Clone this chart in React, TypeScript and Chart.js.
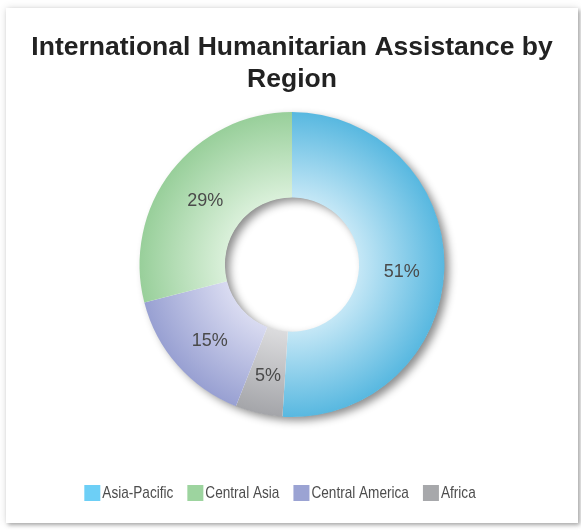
import React, { useEffect, useRef } from "react";
import { Chart, registerables } from "chart.js";

Chart.register(...registerables);

// Data in clockwise drawing order (starting at 12 o'clock)
const categories = ["Asia-Pacific", "Africa", "Central America", "Central Asia"];
const shares = [51, 5, 15, 29];
// Legend order as shown in the reference
const legendOrder = ["Asia-Pacific", "Central Asia", "Central America", "Africa"];

const innerColors = ["#c4e7f6", "#dcdcde", "#d9dbf1", "#daf0da"];
const outerColors = ["#58b8e0", "#a4a5a9", "#98a0d2", "#98cf9a"];
const legendColors = ["#6dcff6", "#a7a8ab", "#9ba3d3", "#9dd49f"];

const titleLines = ["International Humanitarian Assistance by", "Region"];

const ringShadow = {
  id: "ringShadow",
  beforeDatasetsDraw(chart: any) {
    const meta = chart.getDatasetMeta(0);
    const arc = meta.data[0];
    if (!arc) return;
    const { x, y, outerRadius, innerRadius } = arc.getProps(["x", "y", "outerRadius", "innerRadius"], true);
    const ctx = chart.ctx;
    ctx.save();
    ctx.beginPath();
    ctx.arc(x, y, outerRadius - 0.5, 0, Math.PI * 2);
    ctx.moveTo(x + innerRadius + 0.5, y);
    ctx.arc(x, y, innerRadius + 0.5, 0, Math.PI * 2, true);
    ctx.closePath();
    ctx.fillStyle = "#ffffff";
    ctx.shadowColor = "rgba(0,0,0,0.45)";
    ctx.shadowBlur = 9;
    ctx.shadowOffsetX = 5;
    ctx.shadowOffsetY = 4;
    ctx.fill("evenodd");
    ctx.restore();
  },
};

const sliceLabels = {
  id: "sliceLabels",
  afterDatasetsDraw(chart: any) {
    const meta = chart.getDatasetMeta(0);
    const data = chart.data.datasets[0].data as number[];
    const total = data.reduce((a, b) => a + b, 0);
    const ctx = chart.ctx;
    ctx.save();
    ctx.font = "18px 'Liberation Sans', Arial, sans-serif";
    ctx.fillStyle = "#4a4a4a";
    ctx.textAlign = "center";
    ctx.textBaseline = "middle";
    meta.data.forEach((arc: any, i: number) => {
      const { x, y, startAngle, endAngle, innerRadius, outerRadius } = arc.getProps(
        ["x", "y", "startAngle", "endAngle", "innerRadius", "outerRadius"],
        true
      );
      const mid = (startAngle + endAngle) / 2;
      const r = (innerRadius + outerRadius) / 2;
      ctx.fillText(Math.round((data[i] / total) * 100) + "%", x + Math.cos(mid) * r, y + Math.sin(mid) * r + 4);
    });
    ctx.restore();
  },
};

// Legend drawn in a condensed style (box, small gap, horizontally compressed text)
const condensedLegend = {
  id: "condensedLegend",
  afterDraw(chart: any) {
    const ctx = chart.ctx;
    const labels = chart.data.labels as string[];
    const squeeze = 0.8;
    const box = 16;
    const gapText = 2;
    const gapItem = 14;
    ctx.save();
    ctx.font = "17px 'Liberation Sans', Arial, sans-serif";
    const items = legendOrder.map((name) => {
      const idx = labels.indexOf(name);
      return { name, color: legendColors[idx], w: ctx.measureText(name).width * squeeze };
    });
    const total = items.reduce((s, it) => s + box + gapText + it.w, 0) + gapItem * (items.length - 1);
    let x = chart.width / 2 - 12 - total / 2;
    const yc = chart.chartArea.bottom + 76;
    ctx.textBaseline = "middle";
    ctx.textAlign = "left";
    items.forEach((it) => {
      ctx.fillStyle = it.color;
      ctx.fillRect(x, yc - box / 2, box, box);
      ctx.save();
      ctx.translate(x + box + gapText, yc + 0.5);
      ctx.scale(squeeze, 1);
      ctx.fillStyle = "#4d4d4d";
      ctx.fillText(it.name, 0, 0);
      ctx.restore();
      x += box + gapText + it.w + gapItem;
    });
    ctx.restore();
  },
};

function makeGradient(ctx: any, i: number) {
  const chart = ctx.chart;
  const area = chart.chartArea;
  if (!area) return outerColors[i];
  const cx = (area.left + area.right) / 2;
  const cy = (area.top + area.bottom) / 2;
  const outer = Math.min(area.right - area.left, area.bottom - area.top) / 2;
  const inner = outer * 0.44;
  const g = chart.ctx.createRadialGradient(cx, cy, inner, cx, cy, outer);
  g.addColorStop(0, innerColors[i]);
  g.addColorStop(1, outerColors[i]);
  return g;
}

export default function App() {
  const ref = useRef<HTMLCanvasElement>(null);
  useEffect(() => {
    if (!ref.current) return;
    const chart = new Chart(ref.current, {
      type: "doughnut",
      data: {
        labels: categories,
        datasets: [
          {
            data: shares,
            backgroundColor: (c: any) => makeGradient(c, c.dataIndex),
            borderWidth: 0,
            hoverOffset: 0,
          },
        ],
      },
      options: {
        responsive: false,
        animation: false,
        cutout: "44%",
        layout: { padding: { top: 0, bottom: 106, left: 0, right: 0 } },
        plugins: {
          tooltip: { enabled: false },
          legend: { display: false },
          title: {
            display: true,
            text: titleLines,
            color: "#222222",
            font: { family: "'Liberation Sans', Arial, sans-serif", size: 26.5, weight: "bold", lineHeight: 1.2 },
            padding: { top: 24, bottom: 16.5 },
          },
        },
      },
      plugins: [ringShadow, sliceLabels, condensedLegend],
    } as any);
    return () => chart.destroy();
  }, []);

  return (
    <div
      style={{
        position: "absolute",
        left: 6,
        top: 8,
        width: 572,
        height: 515,
        background: "#ffffff",
        boxShadow: "2px 2px 4px rgba(0,0,0,0.3), 0 0 8px rgba(0,0,0,0.12)",
      }}
    >
      <canvas ref={ref} width={572} height={515} style={{ display: "block" }} />
    </div>
  );
}
